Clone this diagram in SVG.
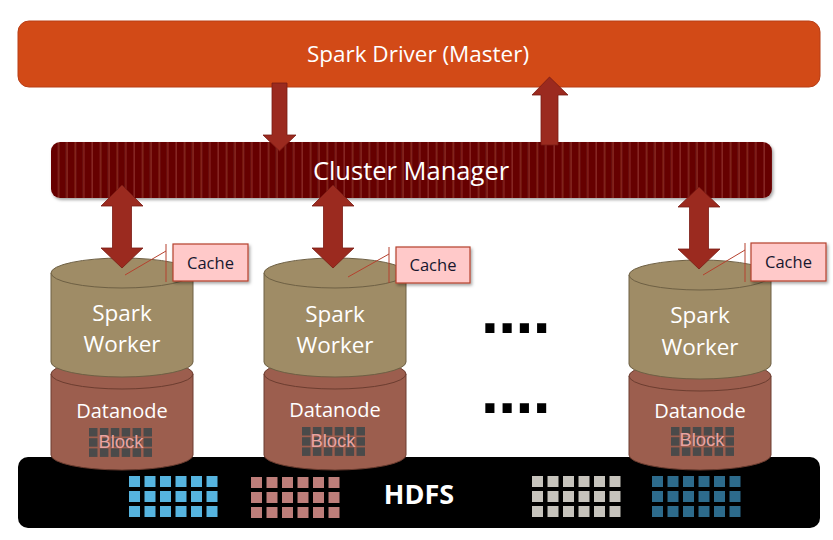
<svg xmlns="http://www.w3.org/2000/svg" xmlns:xlink="http://www.w3.org/1999/xlink" width="833" height="540" viewBox="0 0 833 540">
<defs>
  <pattern id="stripes" patternUnits="userSpaceOnUse" x="51" y="0" width="8.4" height="10">
    <rect width="8.4" height="10" fill="#660606"/>
    <rect x="7" width="1.2" height="10" fill="#8E2E26"/>
  </pattern>
  <filter id="sh" x="-10%" y="-20%" width="130%" height="150%">
    <feDropShadow dx="1.5" dy="2" stdDeviation="1.5" flood-color="#000" flood-opacity="0.35"/>
  </filter>
  <g id="hgrid">
    <rect x="0" y="0" width="11" height="11"/><rect x="15.5" y="0" width="11" height="11"/><rect x="31" y="0" width="11" height="11"/><rect x="46.5" y="0" width="11" height="11"/><rect x="62" y="0" width="11" height="11"/><rect x="77.5" y="0" width="11" height="11"/>
    <rect x="0" y="15" width="11" height="11"/><rect x="15.5" y="15" width="11" height="11"/><rect x="31" y="15" width="11" height="11"/><rect x="46.5" y="15" width="11" height="11"/><rect x="62" y="15" width="11" height="11"/><rect x="77.5" y="15" width="11" height="11"/>
    <rect x="0" y="30" width="11" height="11"/><rect x="15.5" y="30" width="11" height="11"/><rect x="31" y="30" width="11" height="11"/><rect x="46.5" y="30" width="11" height="11"/><rect x="62" y="30" width="11" height="11"/><rect x="77.5" y="30" width="11" height="11"/>
  </g>
  <g id="bgrid" fill="#4A4A4A">
    <rect x="0" y="0" width="8.5" height="8.5"/><rect x="10.9" y="0" width="8.5" height="8.5"/><rect x="21.8" y="0" width="8.5" height="8.5"/><rect x="32.7" y="0" width="8.5" height="8.5"/><rect x="43.6" y="0" width="8.5" height="8.5"/><rect x="54.5" y="0" width="8.5" height="8.5"/>
    <rect x="0" y="10.2" width="8.5" height="8.5"/><rect x="10.9" y="10.2" width="8.5" height="8.5"/><rect x="21.8" y="10.2" width="8.5" height="8.5"/><rect x="32.7" y="10.2" width="8.5" height="8.5"/><rect x="43.6" y="10.2" width="8.5" height="8.5"/><rect x="54.5" y="10.2" width="8.5" height="8.5"/>
    <rect x="0" y="20.4" width="8.5" height="8.5"/><rect x="10.9" y="20.4" width="8.5" height="8.5"/><rect x="21.8" y="20.4" width="8.5" height="8.5"/><rect x="32.7" y="20.4" width="8.5" height="8.5"/><rect x="43.6" y="20.4" width="8.5" height="8.5"/><rect x="54.5" y="20.4" width="8.5" height="8.5"/>
  </g>
</defs>
<style>
  .t { font-family: "Open Sans", "Noto Sans", "DejaVu Sans", sans-serif; fill: #ffffff; text-anchor: middle; }
  .wk { fill: #9F8C66; stroke: #6E6044; stroke-width: 1; }
  .dn { fill: #9C5E4E; stroke: #6C3D30; stroke-width: 1; }
  .blk { font-family: "Liberation Sans", Arial, sans-serif; font-size: 18.5px; fill: #E9A3A0; text-anchor: middle; }
  .cbox { fill: #FFC9C9; stroke: #B5412E; stroke-width: 1.2; }
  .cline { stroke: #B5412E; stroke-width: 1; fill: none; }
  .ct { font-family: "Open Sans", "Noto Sans", sans-serif; font-size: 16.5px; fill: #17172E; text-anchor: middle; }
  .arr { fill: #9B2A1F; stroke: #7A1C14; stroke-width: 0.8; }
  .dots { font-family: "DejaVu Sans", sans-serif; font-weight: bold; font-size: 52px; fill: #000; letter-spacing: -2.5px; }
</style>
<rect width="833" height="540" fill="#ffffff"/>

<g id="driver">
  <rect x="18" y="21" width="802" height="66" rx="11" fill="#D24A17" stroke="#B83E16" stroke-width="1"/>
  <text class="t" x="418" y="62" font-size="22.5">Spark Driver (Master)</text>
</g>

<g id="cluster-manager">
  <rect x="51" y="142" width="721" height="56" rx="9" fill="url(#stripes)" filter="url(#sh)"/>
  <text class="t" x="411" y="180" font-size="25.5">Cluster Manager</text>
</g>

<g id="hdfs">
  <rect x="18" y="457" width="802" height="71" rx="10" fill="#000000"/>
  <text class="t" x="419" y="504" font-size="27" font-weight="bold">HDFS</text>
  <use xlink:href="#hgrid" x="129" y="476" fill="#56B4DF"/>
  <use xlink:href="#hgrid" x="251" y="477" fill="#BE7E7A"/>
  <use xlink:href="#hgrid" x="532" y="476" fill="#C6C3BC"/>
  <use xlink:href="#hgrid" x="652" y="476" fill="#2D6B8C"/>
</g>

<g id="node1">
  <path class="dn" d="M51,374 L51,455 A71,15 0 0 0 193,455 L193,374 Z"/>
  <ellipse class="dn" cx="122" cy="374" rx="71" ry="15"/>
  <path class="wk" d="M51,273 L51,362 A71,15 0 0 0 193,362 L193,273 Z"/>
  <ellipse class="wk" cx="122" cy="273" rx="71" ry="15"/>
  <text class="t" x="122" y="321" font-size="22.5">Spark</text>
  <text class="t" x="122" y="352" font-size="22.5">Worker</text>
  <text class="t" x="122" y="418" font-size="20">Datanode</text>
  <use xlink:href="#bgrid" x="89" y="428"/>
  <text class="blk" x="121" y="448">Block</text>
</g>

<g id="node2">
  <path class="dn" d="M264,374 L264,455 A71,15 0 0 0 406,455 L406,374 Z"/>
  <ellipse class="dn" cx="335" cy="374" rx="71" ry="15"/>
  <path class="wk" d="M264,273 L264,362 A71,15 0 0 0 406,362 L406,273 Z"/>
  <ellipse class="wk" cx="335" cy="273" rx="71" ry="15"/>
  <text class="t" x="335" y="322" font-size="22.5">Spark</text>
  <text class="t" x="335" y="353" font-size="22.5">Worker</text>
  <text class="t" x="335" y="417" font-size="20">Datanode</text>
  <use xlink:href="#bgrid" x="302" y="427"/>
  <text class="blk" x="333" y="447">Block</text>
</g>

<g id="node3">
  <path class="dn" d="M629,376 L629,455 A71,15 0 0 0 771,455 L771,376 Z"/>
  <ellipse class="dn" cx="700" cy="376" rx="71" ry="15"/>
  <path class="wk" d="M629,275 L629,364 A71,15 0 0 0 771,364 L771,275 Z"/>
  <ellipse class="wk" cx="700" cy="275" rx="71" ry="15"/>
  <text class="t" x="700" y="323" font-size="22.5">Spark</text>
  <text class="t" x="700" y="355" font-size="22.5">Worker</text>
  <text class="t" x="700" y="418" font-size="20">Datanode</text>
  <use xlink:href="#bgrid" x="671" y="427"/>
  <text class="blk" x="702" y="446">Block</text>
</g>

<g id="ellipsis">
  <text class="dots" x="480" y="333">....</text>
  <text class="dots" x="480" y="413">....</text>
</g>

<g id="cache1">
  <path class="cline" d="M166,244 L166,282 M166,251 L125,275"/>
  <rect class="cbox" x="173" y="244" width="75" height="37" filter="url(#sh)"/>
  <text class="ct" x="210.5" y="268.5">Cache</text>
</g>
<g id="cache2">
  <path class="cline" d="M389,247 L389,283 M389,254 L348,277"/>
  <rect class="cbox" x="396" y="247" width="74" height="36" filter="url(#sh)"/>
  <text class="ct" x="433" y="271">Cache</text>
</g>
<g id="cache3">
  <path class="cline" d="M745,243 L745,282 M745,250 L703,275"/>
  <rect class="cbox" x="751" y="243" width="75" height="38" filter="url(#sh)"/>
  <text class="ct" x="788.5" y="268">Cache</text>
</g>

<g id="connectors">
  <path class="arr" d="M272,83 L287,83 L287,135 L296,135 L279.5,151 L263,135 L272,135 Z"/>
  <path class="arr" d="M541,145 L541,95 L532,95 L549.5,77 L568,95 L558,95 L558,145 Z"/>
  <path class="arr" d="M122,185 L143,206 L131.5,206 L131.5,248 L143,248 L122,268 L101,248 L112.5,248 L112.5,206 L101,206 Z"/>
  <path class="arr" d="M333,185 L354,206 L342.5,206 L342.5,248 L354,248 L333,268 L312,248 L323.5,248 L323.5,206 L312,206 Z"/>
  <path class="arr" d="M699,187 L720,207 L708.5,207 L708.5,249 L720,249 L699,269 L678,249 L689.5,249 L689.5,207 L678,207 Z"/>
</g>
</svg>
